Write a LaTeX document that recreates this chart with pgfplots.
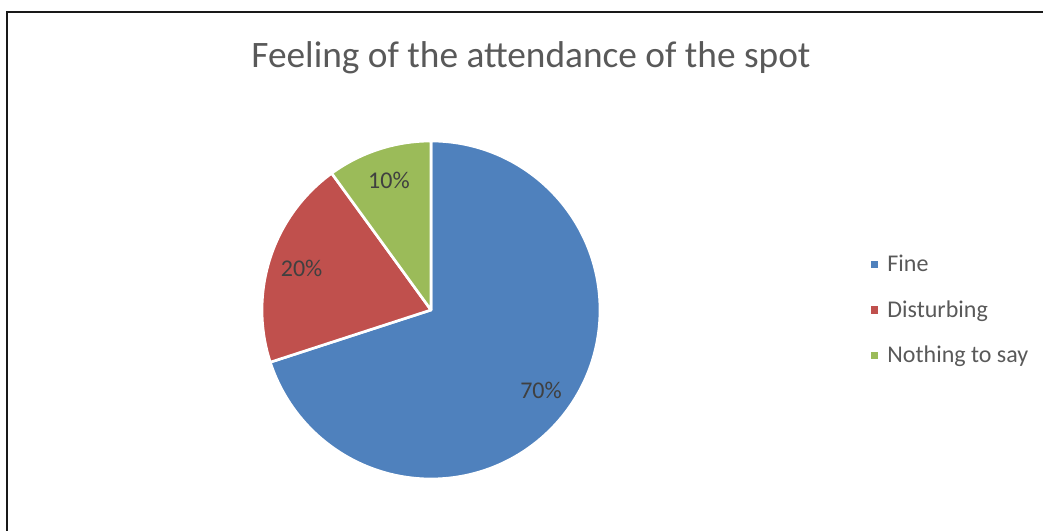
\documentclass[border=0pt]{standalone}
\usepackage{pgfplots}
\pgfplotsset{compat=1.18}
\usepackage{pgfplotstable}
\usepackage{fontspec}
\setmainfont{Carlito}
\definecolor{fineblue}{HTML}{4F81BD}
\definecolor{disred}{HTML}{C0504D}
\definecolor{nothgreen}{HTML}{9BBB59}
\definecolor{titlegray}{HTML}{595959}
\definecolor{labelgray}{HTML}{404040}
\pgfplotstableread[col sep=comma]{
name,value,color
Fine,70,fineblue
Disturbing,20,disred
Nothing to say,10,nothgreen
}\piedata
\def\R{126.75pt}
\begin{document}
\begin{tikzpicture}
\useasboundingbox (0,0) rectangle (782.25pt,398.25pt);
\begin{scope}
\clip (0,0) rectangle (782.25pt,398.25pt);
\draw[line width=1.5pt, black!90] (5.25pt,-5pt) -- (5.25pt,389.25pt) -- (800pt,389.25pt);
\end{scope}
\node[anchor=base, font=\fontsize{28}{34}\selectfont, text=titlegray] at (398.25pt,347.25pt) {Feeling of the attendance of the spot};
\gdef\cumangle{90}
\gdef\pieslices{}
\gdef\pielabels{}
\gdef\pielegend{}
\foreach \i in {0,1,2}{
  \pgfplotstablegetelem{\i}{value}\of\piedata
  \xdef\curval{\pgfplotsretval}
  \pgfplotstablegetelem{\i}{color}\of\piedata
  \xdef\curcol{\pgfplotsretval}
  \pgfplotstablegetelem{\i}{name}\of\piedata
  \xdef\curname{\pgfplotsretval}
  \pgfmathsetmacro\s{\cumangle}
  \pgfmathsetmacro\e{\cumangle-3.6*\curval}
  \pgfmathsetmacro\m{(\s+\e)/2}
  \xdef\pieslices{\unexpanded\expandafter{\pieslices}\noexpand\fill[\curcol, draw=white, line width=2pt, line join=round] (axis cs:0,0) -- (axis cs:{cos(\s)},{sin(\s)}) arc[start angle=\s, end angle=\e, radius=\R] -- cycle;}
  \xdef\pielabels{\unexpanded\expandafter{\pielabels}\noexpand\node[font=\noexpand\fontsize{18}{22}\noexpand\selectfont, text=labelgray] at (axis cs:{0.805*cos(\m)},{0.805*sin(\m)}) {\curval\noexpand\%};}
  \xdef\pielegend{\unexpanded\expandafter{\pielegend}\noexpand\addlegendimage{fill=\curcol}\noexpand\addlegendentry{\curname}}
  \xdef\cumangle{\e}
}
\begin{axis}[
  hide axis, clip=false,
  x=126.75pt, y=126.75pt,
  xmin=-1, xmax=1, ymin=-1, ymax=1,
  anchor=origin, at={(323.25pt,165.75pt)},
  legend image code/.code={\fill[#1, draw=none] (0pt,-2.8pt) rectangle (5.6pt,2.8pt);},
  legend cell align=left,
  legend style={draw=none, fill=none, at={(1.80,0.5)}, anchor=west,
    font=\fontsize{18}{22}\selectfont, text=titlegray,
    row sep=16pt, inner sep=0pt,
    nodes={inner sep=2pt},
    /tikz/every odd column/.append style={column sep=5pt}},
]
\pieslices
\pielabels
\pielegend
\end{axis}
\end{tikzpicture}
\end{document}
